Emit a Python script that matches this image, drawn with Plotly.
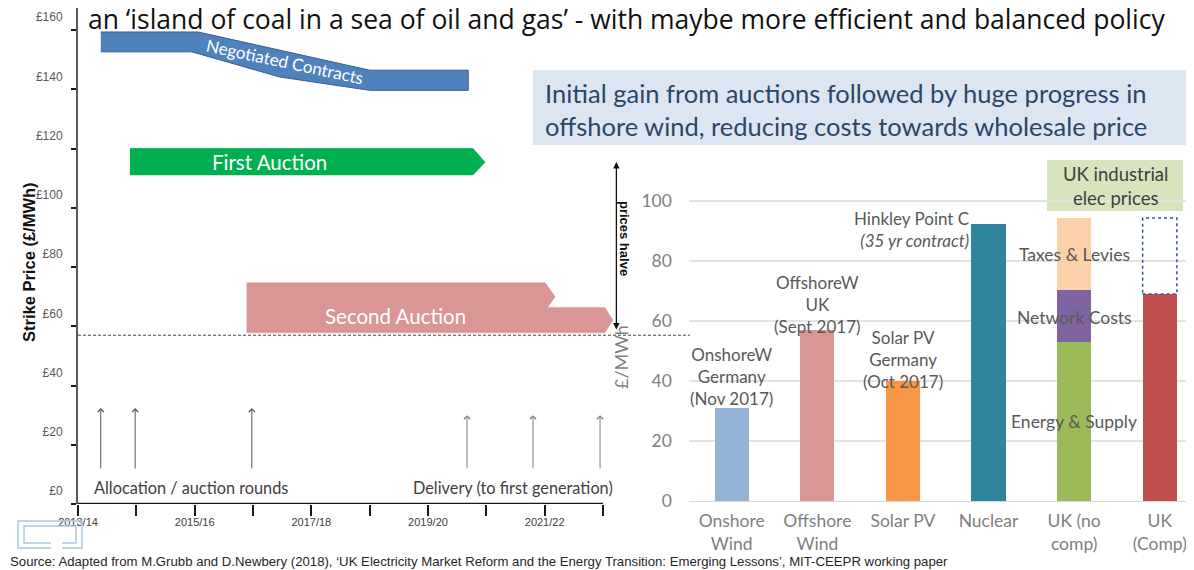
import plotly.graph_objects as go

# The page body has an 8px margin, so the figure is sized to fill the rest of the window.
OFF = 8
W, H = 1194 - OFF, 570 - OFF

def px(x):
    return (x - OFF) / W

def py(y):
    return 1 - (y - OFF) / H

# ---------------- left chart data ----------------
years = ["2013/14", "2014/15", "2015/16", "2016/17", "2017/18",
         "2018/19", "2019/20", "2020/21", "2021/22", "2022/23"]
year_pos = list(range(len(years)))
year_labels = [y if i % 2 == 0 else "" for i, y in enumerate(years)]

price_ticks = [0, 20, 40, 60, 80, 100, 120, 140, 160]
price_labels = ["£" + str(v) for v in price_ticks]

# Negotiated contracts band (year position, £/MWh)
neg_x = [0.39, 2.06, 5.0, 6.69, 6.69, 5.0, 3.46, 1.95, 0.39]
neg_y = [159.4, 159.4, 146.5, 146.5, 139.7, 139.7, 144.2, 152.7, 152.7]

# First auction arrow
fa_x = [0.89, 6.77, 6.98, 6.77, 0.89]
fa_y = [120.1, 120.1, 115.4, 111.1, 111.1]

# Second auction arrow
sa_x = [2.89, 8.01, 8.18, 8.05, 9.03, 9.17, 9.03, 2.89]
sa_y = [74.7, 74.7, 70.0, 66.4, 66.4, 62.1, 57.8, 57.8]

wholesale = 57.0
halve_x = 9.23
halve_top = 115.5
halve_bottom = 58.4

alloc_x = [0.39, 0.98, 2.98]
deliv_x = [6.67, 7.80, 8.95]
arrow_base = 11.5
alloc_top = 32.4
deliv_top = 30.0

# ---------------- right chart data ----------------
cats = ["Onshore Wind", "Offshore Wind", "Solar PV", "Nuclear", "UK (no comp)", "UK (Comp)"]
cat_ticktext = ["Onshore<br>Wind", "Offshore<br>Wind", "Solar PV", "Nuclear", "UK (no<br>comp)", "UK<br>(Comp)"]
tech_vals = [31, 57, 40, 92.5]
tech_colors = ["#95B3D7", "#D99694", "#F79646", "#31859C"]
energy_supply = 53.0
network_costs = 17.3
taxes_levies = 24.0
uk_comp = 69.0
comp_exempt = 25.3
bar_width = 0.4

gray = "#7F7F7F"
label_gray = "#595959"
calibri = "Lato"

fig = go.Figure()

# ---- left chart shapes as filled traces ----
fig.add_trace(go.Scatter(x=neg_x, y=neg_y, fill="toself", mode="lines",
                         fillcolor="#4F81BD", line=dict(color="#385D8A", width=1),
                         xaxis="x", yaxis="y", hoverinfo="skip", showlegend=False))
fig.add_trace(go.Scatter(x=fa_x, y=fa_y, fill="toself", mode="lines",
                         fillcolor="#00B050", line=dict(color="#00B050", width=0.5),
                         xaxis="x", yaxis="y", hoverinfo="skip", showlegend=False))
fig.add_trace(go.Scatter(x=sa_x, y=sa_y, fill="toself", mode="lines",
                         fillcolor="#DA9694", line=dict(color="#DA9694", width=0.5),
                         xaxis="x", yaxis="y", hoverinfo="skip", showlegend=False))

# ---- right chart bars ----
fig.add_trace(go.Bar(x=cats[:4], y=tech_vals, marker=dict(color=tech_colors, line=dict(width=0)),
                     width=bar_width, xaxis="x2", yaxis="y2", showlegend=False, hoverinfo="skip"))
fig.add_trace(go.Bar(x=[cats[4]], y=[energy_supply], marker=dict(color="#9BBB59", line=dict(width=0)),
                     width=bar_width, xaxis="x2", yaxis="y2", showlegend=False, hoverinfo="skip"))
fig.add_trace(go.Bar(x=[cats[4]], y=[network_costs], marker=dict(color="#8064A2", line=dict(width=0)),
                     width=bar_width, xaxis="x2", yaxis="y2", showlegend=False, hoverinfo="skip"))
fig.add_trace(go.Bar(x=[cats[4]], y=[taxes_levies], marker=dict(color="#FCD0A8", line=dict(width=0)),
                     width=bar_width, xaxis="x2", yaxis="y2", showlegend=False, hoverinfo="skip"))
fig.add_trace(go.Bar(x=[cats[5]], y=[uk_comp], marker=dict(color="#C0504D", line=dict(width=0)),
                     width=bar_width, xaxis="x2", yaxis="y2", showlegend=False, hoverinfo="skip"))

shapes = []
annotations = []

# dashed box for compensated part
comp_idx = 5
shapes.append(dict(type="rect", xref="x2", yref="y2",
                   x0=comp_idx - bar_width / 2, x1=comp_idx + bar_width / 2,
                   y0=uk_comp, y1=uk_comp + comp_exempt,
                   line=dict(color="#2F5597", width=1.5, dash="dot"), fillcolor="rgba(0,0,0,0)"))

# left x-axis baseline
shapes.append(dict(type="line", xref="x", yref="y", x0=-0.08, x1=year_pos[-1], y0=0, y1=0,
                   line=dict(color="#1a1a1a", width=2.5)))
# wholesale dashed line
shapes.append(dict(type="line", xref="paper", yref="y", x0=px(78), x1=px(690), y0=wholesale, y1=wholesale,
                   line=dict(color="#404040", width=1, dash="3px,2px")))

# heading box
shapes.append(dict(type="rect", xref="paper", yref="paper", x0=px(533), x1=px(1194), y0=py(145), y1=py(70),
                   fillcolor="#DCE6F2", line=dict(width=0), layer="below"))
# UK industrial box
shapes.append(dict(type="rect", xref="paper", yref="paper", x0=px(1047), x1=px(1183), y0=py(211), y1=py(160),
                   fillcolor="#D7E4BD", line=dict(width=0), layer="below"))

# logo bracket (decoration)
for path in ["M {a},{b} L {c},{b} L {c},{d} L {e},{d} L {e},{b} L {f},{b}".format(
                 a=px(51), b=py(548), c=px(18), d=py(521), e=px(82), f=px(62)),
             "M {a},{b} L {c},{b} L {c},{d} L {e},{d} L {e},{b} L {f},{b}".format(
                 a=px(51), b=py(543), c=px(24), d=py(526), e=px(76), f=px(62))]:
    shapes.append(dict(type="path", xref="paper", yref="paper", path=path,
                       line=dict(color="#A9C8E8", width=1.5)))

# title
annotations.append(dict(xref="paper", yref="paper", x=px(626), y=py(19), xanchor="center", yanchor="middle",
                        text="an ‘island of coal in a sea of oil and gas’ - with maybe more efficient and balanced policy",
                        showarrow=False, font=dict(family="Open Sans", size=26.5, color="#111111")))
# heading box text
annotations.append(dict(xref="paper", yref="paper", x=px(543), y=py(110), xanchor="left", yanchor="middle",
                        align="left",
                        text="Initial gain from auctions followed by huge progress in<br>offshore wind, reducing costs towards wholesale price",
                        showarrow=False, font=dict(family=calibri, size=25.5, color="#2B4768")))
annotations.append(dict(xref="paper", yref="paper", x=px(1115), y=py(186), xanchor="center", yanchor="middle",
                        text="UK industrial<br>elec prices", showarrow=False,
                        font=dict(family=calibri, size=18.5, color="#404040")))

# left y title
annotations.append(dict(xref="paper", yref="paper", x=px(18), y=py(262), textangle=-90,
                        text="<b>Strike Price (£/MWh)</b>", showarrow=False,
                        font=dict(family="Liberation Sans", size=16.5, color="#111111")))

# shape labels
annotations.append(dict(xref="x", yref="y", x=3.55, y=149.5, text="Negotiated Contracts", textangle=12,
                        showarrow=False, font=dict(family=calibri, size=17, color="white")))
annotations.append(dict(xref="x", yref="y", x=3.29, y=115.4, text="First Auction",
                        showarrow=False, font=dict(family=calibri, size=20.5, color="white")))
annotations.append(dict(xref="x", yref="y", x=5.45, y=63.6, text="Second Auction",
                        showarrow=False, font=dict(family=calibri, size=20.5, color="white")))

# prices halve double arrow
annotations.append(dict(xref="x", yref="y", axref="x", ayref="y", x=halve_x, y=halve_top,
                        ax=halve_x, ay=halve_bottom, text="", showarrow=True, arrowside="end+start",
                        arrowhead=2, startarrowhead=2, arrowsize=1, startarrowsize=1, arrowwidth=1.3,
                        arrowcolor="#111111"))
annotations.append(dict(xref="x", yref="y", x=9.38, y=89.8, text="<b>prices halve</b>", textangle=90,
                        showarrow=False, font=dict(family="Liberation Sans", size=13, color="#111111")))

# allocation / delivery arrows
for xv in alloc_x:
    annotations.append(dict(xref="x", yref="y", axref="x", ayref="y", x=xv, y=alloc_top, ax=xv, ay=arrow_base,
                            text="", showarrow=True, arrowhead=4, arrowsize=1.2, arrowwidth=1,
                            arrowcolor="#595959"))
for xv in deliv_x:
    annotations.append(dict(xref="x", yref="y", axref="x", ayref="y", x=xv, y=deliv_top, ax=xv, ay=arrow_base,
                            text="", showarrow=True, arrowhead=4, arrowsize=1.2, arrowwidth=1,
                            arrowcolor="#7F7F7F"))
annotations.append(dict(xref="x", yref="y", x=1.93, y=5.7, text="Allocation / auction rounds",
                        showarrow=False, font=dict(family=calibri, size=16.3, color="#404040")))
annotations.append(dict(xref="x", yref="y", x=7.45, y=5.7, text="Delivery (to first generation)",
                        showarrow=False, font=dict(family=calibri, size=16.3, color="#404040")))

# right chart y title
annotations.append(dict(xref="paper", yref="y2", x=px(621), y=48, text="£/MWh", textangle=-90,
                        showarrow=False, font=dict(family=calibri, size=18, color=gray)))

# bar labels
bar_label_font = dict(family=calibri, size=17, color=label_gray)
annotations.append(dict(xref="x2", yref="y2", x=cats[0], y=tech_vals[0], yanchor="bottom", yshift=-3,
                        text="OnshoreW<br>Germany<br>(Nov 2017)", showarrow=False, font=bar_label_font))
annotations.append(dict(xref="x2", yref="y2", x=cats[1], y=tech_vals[1], yanchor="bottom", yshift=-9,
                        text="OffshoreW<br>UK<br>(Sept 2017)", showarrow=False, font=bar_label_font))
annotations.append(dict(xref="x2", yref="y2", x=cats[2], y=tech_vals[2], yanchor="bottom", yshift=-13,
                        text="Solar PV<br>Germany<br>(Oct 2017)", showarrow=False, font=bar_label_font))
annotations.append(dict(xref="x2", yref="y2", x=3 - bar_width / 2, y=tech_vals[3], xanchor="right", yanchor="top",
                        yshift=18, align="right",
                        text="Hinkley Point C<br><i>(35 yr contract)</i>", showarrow=False, font=bar_label_font))

seg_font = dict(family=calibri, size=17.5, color=label_gray)
annotations.append(dict(xref="x2", yref="y2", x=cats[4], y=energy_supply + network_costs + taxes_levies * 0.5,
                        text="Taxes & Levies", showarrow=False, font=seg_font))
annotations.append(dict(xref="x2", yref="y2", x=cats[4], y=energy_supply + network_costs * 0.48,
                        text="Network Costs", showarrow=False, font=seg_font))
annotations.append(dict(xref="x2", yref="y2", x=cats[4], y=energy_supply * 0.5,
                        text="Energy & Supply", showarrow=False, font=seg_font))

# source
annotations.append(dict(xref="paper", yref="paper", x=px(8), y=py(561), xanchor="left", yanchor="middle",
                        text="Source: Adapted from M.Grubb and D.Newbery (2018), ‘UK Electricity Market Reform and the Energy Transition: Emerging Lessons’, MIT-CEEPR working paper",
                        showarrow=False, font=dict(family="Liberation Sans", size=13.2, color="#262626")))

fig.update_layout(
    width=W, height=H, autosize=False,
    margin=dict(l=0, r=0, t=0, b=0, autoexpand=False),
    paper_bgcolor="white", plot_bgcolor="rgba(0,0,0,0)",
    barmode="stack", bargap=0.6,
    showlegend=False,
    shapes=shapes, annotations=annotations,
    xaxis=dict(domain=[px(78), px(626.3)], range=[0, 9.4], tickvals=year_pos, ticktext=year_labels,
               showgrid=False, zeroline=False, showline=False, automargin=False,
               ticks="outside", ticklen=11, tickwidth=2, tickcolor="#1a1a1a",
               tickfont=dict(family="Liberation Sans", size=11, color="#404040"), ticklabelstandoff=-3),
    yaxis=dict(domain=[py(504), py(8)], range=[0, 167.5], tickvals=price_ticks, ticktext=price_labels,
               showgrid=False, zeroline=False, showline=True, linecolor="#595959", linewidth=2,
               automargin=False,
               ticks="outside", ticklen=5, tickwidth=2, tickcolor="#1a1a1a",
               tickfont=dict(family="Liberation Sans", size=12, color="#595959"),
               ticklabelshift=-13, ticklabelstandoff=6),
    xaxis2=dict(domain=[px(688.9), 1.0], range=[-0.5, 5.4], type="category",
                categoryorder="array", categoryarray=cats, tickvals=cats, ticktext=cat_ticktext,
                showgrid=False, zeroline=False, showline=True, linecolor="#D9D9D9", linewidth=1,
                automargin=False, ticklabelstandoff=4,
                ticks="", tickfont=dict(family=calibri, size=17.5, color=gray), anchor="y2"),
    yaxis2=dict(domain=[py(501), py(171)], range=[0, 110], tickvals=[0, 20, 40, 60, 80, 100],
                showgrid=True, gridcolor="#E3E3E3", gridwidth=1.5, zeroline=False, showline=False,
                automargin=False,
                ticks="", tickfont=dict(family=calibri, size=17.5, color=gray), ticklabelstandoff=16,
                anchor="x2"),
)

fig.write_html("out.html")
